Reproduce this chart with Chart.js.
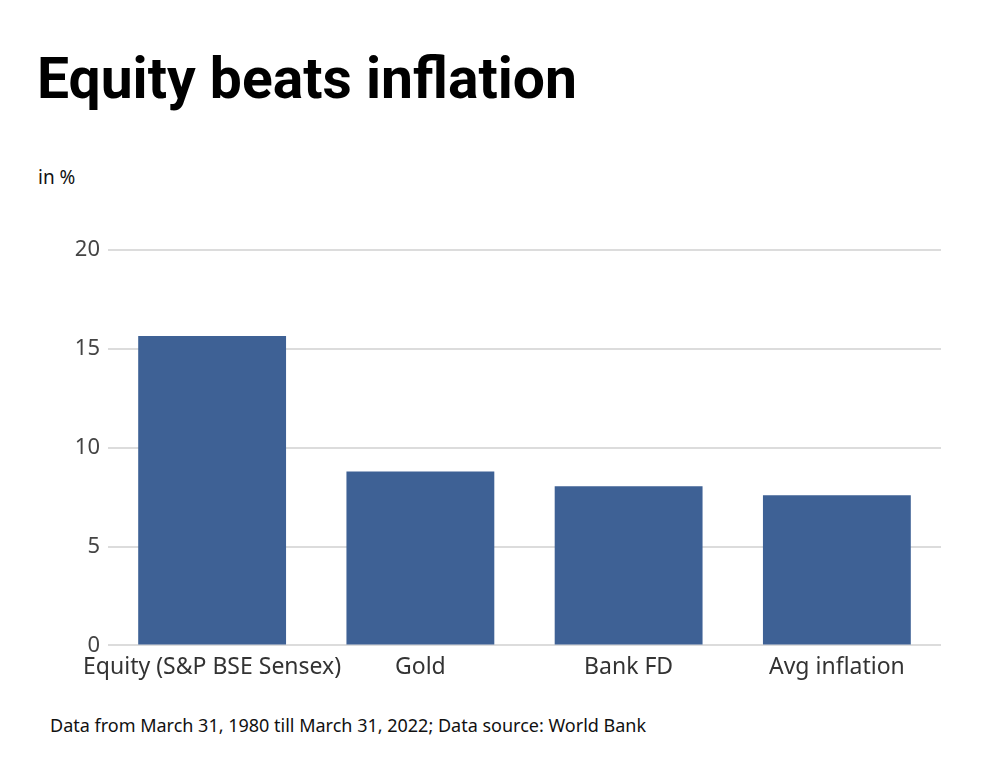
<!DOCTYPE html>
<html>
<head>
<meta charset="utf-8">
<script src="https://cdn.jsdelivr.net/npm/chart.js@4"></script>
<style>
  html, body { margin: 0; padding: 0; background: #fff; }
  body { width: 1000px; height: 770px; position: relative; overflow: hidden; font-family: "Noto Sans", Roboto, sans-serif; }
  #title { position: absolute; left: 37px; top: 45px; font-family: Roboto, sans-serif; font-size: 57px; font-weight: 700; color: #000; }
  #unit { position: absolute; left: 38px; top: 164px; font-size: 19px; color: #111; }
  #note { position: absolute; left: 50px; top: 713px; font-size: 18px; color: #111; }
  #wrap { position: absolute; left: 0; top: 0; width: 1000px; height: 770px; }
</style>
</head>
<body>
<div id="title">Equity beats inflation</div>
<div id="unit">in %</div>
<div id="note">Data from March 31, 1980 till March 31, 2022; Data source: World Bank</div>
<div id="wrap"><canvas id="chart"></canvas></div>
<script>
// data
const categories = ['Equity (S&P BSE Sensex)', 'Gold', 'Bank FD', 'Avg inflation'];
const returns = [15.65, 8.8, 8.05, 7.6];
const yTicks = [0, 5, 10, 15, 20];

const barColor = '#3e6195';

const ctx = document.getElementById('chart').getContext('2d');
new Chart(ctx, {
    type: 'bar',
    data: {
        labels: categories,
        datasets: [{
            label: 'Return',
            data: returns,
            backgroundColor: barColor,
            barPercentage: 0.71,
            categoryPercentage: 1
        }]
    },
    options: {
        responsive: true,
        maintainAspectRatio: false,
        animation: false,
        layout: { padding: { left: 0, right: 59, top: 250, bottom: 89 } },
        plugins: {
            legend: { display: false },
            tooltip: { enabled: false }
        },
        scales: {
            x: {
                grid: { display: false },
                border: { display: false },
                ticks: {
                    color: '#333',
                    font: { family: 'Noto Sans', size: 23 },
                    padding: 0,
                    maxRotation: 0,
                    autoSkip: false
                }
            },
            y: {
                min: 0,
                max: 20,
                afterBuildTicks: (axis) => { axis.ticks = yTicks.map(v => ({ value: v })); },
                afterFit: (axis) => { axis.width = 108; },
                grid: { color: '#dcdcdc', lineWidth: 2, drawTicks: false },
                border: { display: false },
                ticks: {
                    color: '#444',
                    font: { family: 'Noto Sans', size: 22 },
                    padding: 8
                }
            }
        }
    }
});
</script>
</body>
</html>
